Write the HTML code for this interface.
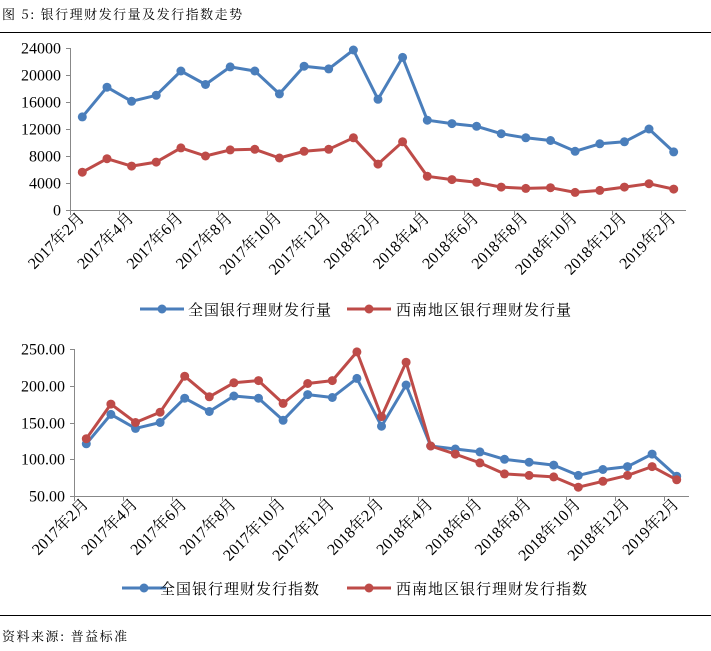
<!DOCTYPE html>
<html><head><meta charset="utf-8">
<style>
body{margin:0;background:#fff;width:711px;height:651px;overflow:hidden}
svg{display:block}
.t{font-family:"Liberation Serif","Noto Serif CJK SC","Noto Sans CJK SC",serif;font-size:16px;fill:#000}
.c{font-family:"Noto Serif CJK SC","Noto Sans CJK SC",serif;font-size:15px;fill:#000}
</style></head>
<body>
<svg id="s" width="711" height="651" xmlns="http://www.w3.org/2000/svg">
<text x="2" y="19" class="c" style="font-size:13px;letter-spacing:1.5px">图 5: 银行理财发行量及发行指数走势</text>
<line x1="0" y1="32.5" x2="711" y2="32.5" stroke="#000" stroke-width="1"/>
<line x1="0" y1="615.5" x2="711" y2="615.5" stroke="#000" stroke-width="1"/>
<text x="2" y="641" class="c" style="font-size:13px;letter-spacing:1.5px">资料来源: 普益标准</text>
</svg>
<script>
const s=document.getElementById('s');const NS='http://www.w3.org/2000/svg';
function el(t,a,txt){const e=document.createElementNS(NS,t);for(const k in a)e.setAttribute(k,a[k]);if(txt)e.textContent=txt;s.appendChild(e);return e;}
const months=[];for(let i=0;i<25;i++){const m=(1+i)%12+1,y=2017+Math.floor((1+i)/12);months.push(y+'年'+m+'月');}
function chart(o){
 const {x0,x1,yb,yt,vmin,vmax,step,fmt,A,B,legY,leg}=o;
 const cw=(x1-x0)/25;
 const Y=v=>yb-(v-vmin)/(vmax-vmin)*(yb-yt);
 el('line',{x1:x0+.5,y1:yt,x2:x0+.5,y2:yb,stroke:'#888'});
 el('line',{x1:x0,y1:yb+.5,x2:x1,y2:yb+.5,stroke:'#888'});
 for(let v=vmin;v<=vmax+1e-9;v+=step){const y=Math.round(Y(v))+.5;el('line',{x1:x0-4,y1:y,x2:x0,y2:y,stroke:'#888'});el('text',{x:x0-9,y:y+5,'text-anchor':'end',class:'t',style:'font-size:16px'},fmt(v));}
 for(let i=0;i<=24;i+=2){const x=Math.round(x0+i*cw)+.5;el('line',{x1:x,y1:yb,x2:x,y2:yb+5,stroke:'#888'});
  const cx=x0+(i+.5)*cw+3,cy=yb+9;el('text',{x:cx,y:cy,'text-anchor':'end',class:'t',transform:`rotate(-45 ${cx} ${cy})`},months[i]);}
 [[A,'#4a7ebb'],[B,'#be4b48']].forEach(([d,c])=>{
  const pts=d.map((v,i)=>[(x0+(i+.5)*cw).toFixed(1),Y(v).toFixed(1)]);
  el('polyline',{points:pts.map(p=>p.join(',')).join(' '),fill:'none',stroke:c,'stroke-width':3,'stroke-linejoin':'round'});
  pts.forEach(p=>el('circle',{cx:p[0],cy:p[1],r:4.5,fill:c}));
 });
 leg.forEach(([lx,tx,txt,c])=>{el('line',{x1:lx,y1:legY,x2:lx+44,y2:legY,stroke:c,'stroke-width':3});el('circle',{cx:lx+22,cy:legY,r:4.5,fill:c});el('text',{x:tx,y:legY+6,class:'c',style:'letter-spacing:1px'},txt);});
}
chart({x0:70,x1:686,yb:210,yt:48,vmin:0,vmax:24000,step:4000,fmt:v=>String(v),
 A:[13800,18200,16100,17000,20600,18600,21200,20600,17200,21300,20900,23700,16400,22600,13300,12800,12400,11300,10700,10300,8700,9800,10100,12000,8600],
 B:[5600,7600,6500,7100,9200,8000,8900,9000,7700,8700,9000,10700,6800,10100,5000,4500,4100,3400,3200,3300,2600,2900,3400,3900,3100],
 legY:309,leg:[[140,188,'全国银行理财发行量','#4a7ebb'],[347,396,'西南地区银行理财发行量','#be4b48']]});
chart({x0:74,x1:689,yb:496,yt:349,vmin:50,vmax:250,step:50,fmt:v=>v.toFixed(2),
 A:[121,161,142,150,183,165,186,183,153,188,184,210,145,201,118,114,110,100,96,92,78,86,90,107,77],
 B:[128,175,150,164,213,185,204,207,176,203,207,246,158,232,118,107,95,80,78,76,62,70,78,90,72],
 legY:588,leg:[[122,160,'全国银行理财发行指数','#4a7ebb'],[347,396,'西南地区银行理财发行指数','#be4b48']]});
</script>
</body></html>
